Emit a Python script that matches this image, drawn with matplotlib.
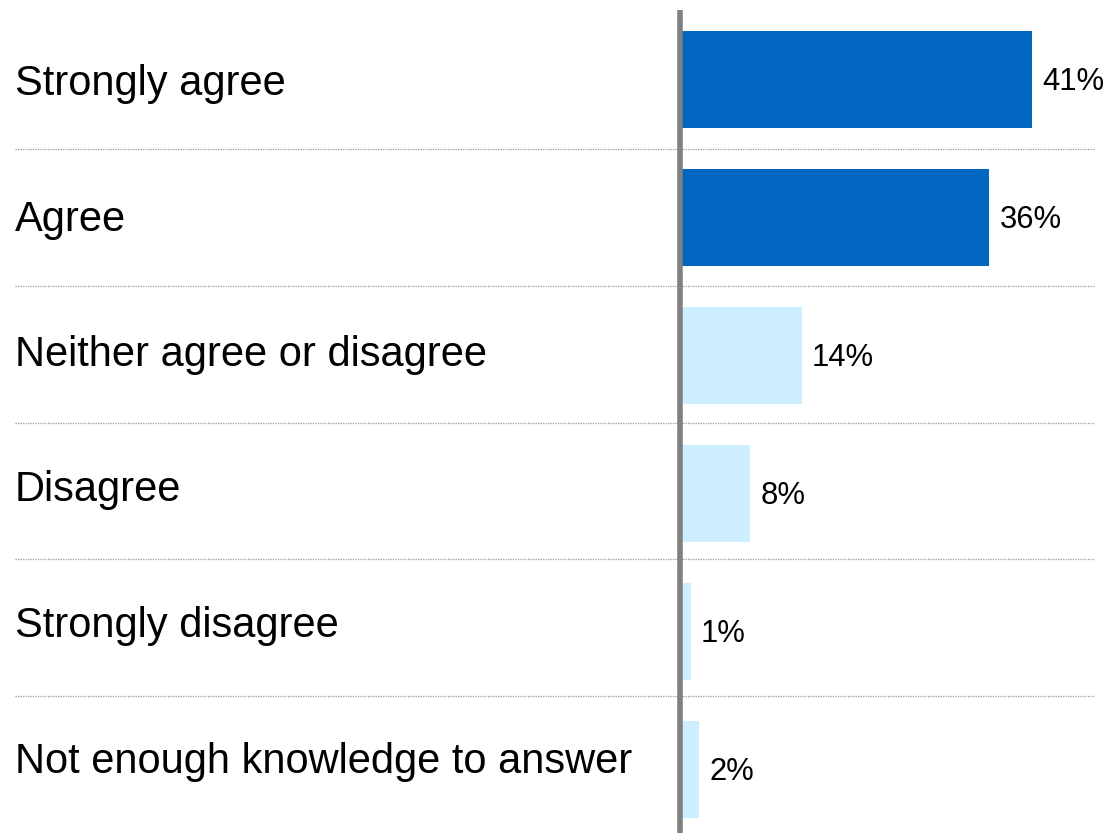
import matplotlib.pyplot as plt

plt.rcParams['font.family'] = ['Liberation Sans', 'DejaVu Sans']

categories = ['Strongly agree', 'Agree', 'Neither agree or disagree',
              'Disagree', 'Strongly disagree', 'Not enough knowledge to answer']
values = [41, 36, 14, 8, 1, 2]
value_labels = ['41%', '36%', '14%', '8%', '1%', '2%']
colors = ['#0066BF', '#0066BF', '#CCEEFF', '#CCEEFF', '#CCEEFF', '#CCEEFF']

W, H = 1112, 833
fig = plt.figure(figsize=(W / 100, H / 100), dpi=100)
ax = fig.add_axes([0, 0, 1, 1])

# pixel layout: zero at x=682, 8.54 px per percent, bar rows every 138 px
x0, px_per = 682, 8.54
row0, row_h = 79.5, 138
ax.set_xlim(-x0 / px_per, (W - x0) / px_per)
ax.set_ylim((H - row0) / row_h, -row0 / row_h)
ax.axis('off')

def px_x(p):
    return (p - x0) / px_per

def px_y(p):
    return (p - row0) / row_h

ypos = list(range(len(categories)))
ax.barh(ypos, values, height=0.703, color=colors, zorder=2)

# category names sit on their own slightly tighter grid
for i, name in enumerate(categories):
    ax.text(px_x(15), px_y(95 + 135.5 * i), name, fontsize=30,
            va='baseline', ha='left')

for y, v, lab in zip(ypos, values, value_labels):
    ax.text(v + 10 / px_per, y + 10.5 / row_h, lab, fontsize=22.3,
            va='baseline', ha='left')

# dotted separators between rows
for i in range(len(categories) - 1):
    yy = px_y(149 + 136.75 * i)
    ax.plot([px_x(15), px_x(1095)], [yy, yy], color='#9a9a9a',
            lw=0.9, ls=(0, (1, 1)), zorder=1)

# vertical baseline
ax.plot([px_x(679.5), px_x(679.5)], [px_y(10), px_y(H + 5)], color='#808080',
        lw=4, solid_capstyle='butt', zorder=3)

fig.savefig('out.png', dpi=100)
